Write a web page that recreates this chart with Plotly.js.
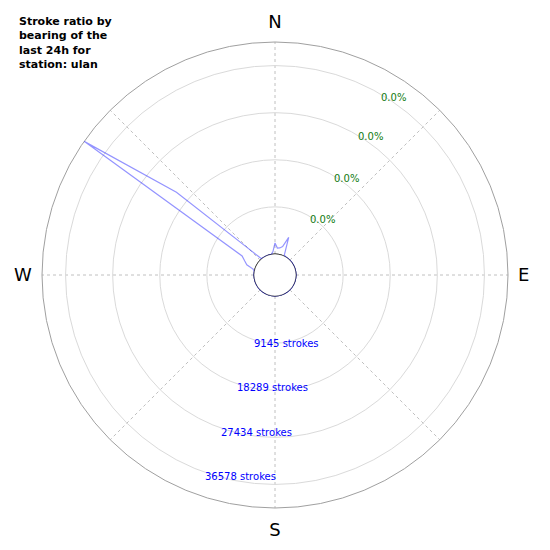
<!DOCTYPE html>
<html>
<head>
<meta charset="utf-8">
<script src="https://cdn.plot.ly/plotly-3.0.1.min.js"></script>
<style>
  body { margin: 0; background: #fff; }
  #myDiv { width: 550px; height: 550px; }
</style>
</head>
<body>
<div id="myDiv"></div>
<script>
// bearing bins (degrees from north, clockwise)
let BEARINGS = [
    0, 5, 10, 15, 20, 25, 30, 35, 40, 45, 50, 55,
    60, 65, 70, 75, 80, 85, 90, 95, 100, 105, 110, 115,
    120, 125, 130, 135, 140, 145, 150, 155, 160, 165, 170, 175,
    180, 185, 190, 195, 200, 205, 210, 215, 220, 225, 230, 235,
    240, 245, 250, 255, 260, 265, 270, 275, 280, 285, 290, 295,
    300, 305, 310, 315, 320, 325, 330, 335, 340, 345, 350, 355
]

// strokes per bearing bin
let STROKES = [
    2140, 1170, 1260, 1630, 3700, 200, 60, 0, 0, 0, 0, 0,
    0, 0, 0, 0, 0, 0, 0, 0, 0, 0, 0, 0,
    0, 0, 0, 0, 0, 0, 0, 0, 0, 0, 0, 0,
    0, 0, 0, 0, 0, 0, 0, 0, 0, 0, 0, 0,
    0, 0, 0, 0, 0, 0, 0, 0, 0, 330, 1750, 2430,
    3300, 41150, 20900, 3100, 100, 0, 0, 0, 0, 0, 0, 490
]

let R_MAX = 41150
let RING_STROKES = [9145, 18289, 27434, 36578]
let RING_PERCENT = ['0.0%', '0.0%', '0.0%', '0.0%']

let COMPASS_VALS = [0, 45, 90, 135, 180, 225, 270, 315]
let COMPASS_TEXT = ['N', '', 'E', '', 'S', '', 'W', '']

let TITLE_TEXT = 'Stroke ratio by<br>bearing of the<br>last 24h for<br>station: ulan'

// label spots in pixels (matplotlib puts them a bit off the rings)
let STROKE_LABEL_PX = [[252, 343], [235, 387], [219, 432], [203, 476]]
let PERCENT_LABEL_PX = [[322, 219], [346, 178], [370, 137], [393, 97]]

const W = 550, H = 550
const FONT = 'DejaVu Sans'

function px(x, y) {
    return { x: x / W, y: 1 - y / H }
}

// close the loop
let rLoop = STROKES.concat([STROKES[0]])
let tLoop = BEARINGS.concat([BEARINGS[0]])

// dark inner circle (zero line)
let ring = {
    type: 'scatterpolar',
    mode: 'lines',
    r: tLoop.map(() => 0),
    theta: tLoop,
    line: { color: '#000000', width: 1 },
    hoverinfo: 'skip'
}

let trace1 = {
    type: 'scatterpolar',
    mode: 'lines',
    r: rLoop,
    theta: tLoop,
    line: { color: 'rgba(0,0,255,0.42)', width: 1.2 },
    name: 'strokes'
}

let annotations = []
annotations.push({
    xref: 'paper', yref: 'paper',
    x: 17 / W, y: 1 - 13 / H,
    xanchor: 'left', yanchor: 'top', align: 'left',
    showarrow: false,
    text: '<b>' + TITLE_TEXT + '</b>',
    font: { family: FONT, size: 11, color: '#000' }
})
RING_STROKES.forEach((v, i) => {
    let p = px(STROKE_LABEL_PX[i][0], STROKE_LABEL_PX[i][1])
    annotations.push({
        xref: 'paper', yref: 'paper', x: p.x, y: p.y,
        xanchor: 'left', yanchor: 'middle', showarrow: false,
        text: v + ' strokes',
        font: { family: FONT, size: 10, color: '#0000ff' }
    })
})
RING_PERCENT.forEach((t, i) => {
    let p = px(PERCENT_LABEL_PX[i][0], PERCENT_LABEL_PX[i][1])
    annotations.push({
        xref: 'paper', yref: 'paper', x: p.x, y: p.y,
        xanchor: 'center', yanchor: 'middle', showarrow: false,
        text: t,
        font: { family: FONT, size: 10, color: '#117a11' }
    })
})

let layout = {
    width: W,
    height: H,
    margin: { l: 0, r: 0, t: 0, b: 0 },
    showlegend: false,
    paper_bgcolor: '#fff',
    font: { family: FONT },
    polar: {
        domain: { x: [42 / W, 508 / W], y: [42 / H, 508 / H] },
        bgcolor: '#fff',
        hole: 21 / 233,
        radialaxis: {
            range: [0, R_MAX],
            tickvals: RING_STROKES,
            showticklabels: false,
            ticks: '',
            showline: false,
            gridcolor: '#dadada',
            gridwidth: 1
        },
        angularaxis: {
            rotation: 90,
            direction: 'clockwise',
            tickmode: 'array',
            tickvals: COMPASS_VALS,
            ticktext: COMPASS_TEXT,
            ticks: 'outside',
            ticklen: 6,
            tickcolor: 'rgba(0,0,0,0)',
            tickfont: { family: FONT, size: 18, color: '#000' },
            showline: true,
            linecolor: '#a0a0a0',
            linewidth: 1,
            layer: 'below traces',
            gridcolor: '#c0c0c0',
            griddash: 'dot',
            gridwidth: 1
        }
    },
    annotations: annotations
}

Plotly.newPlot('myDiv', [ring, trace1], layout, { displayModeBar: false, staticPlot: true })
</script>
</body>
</html>
